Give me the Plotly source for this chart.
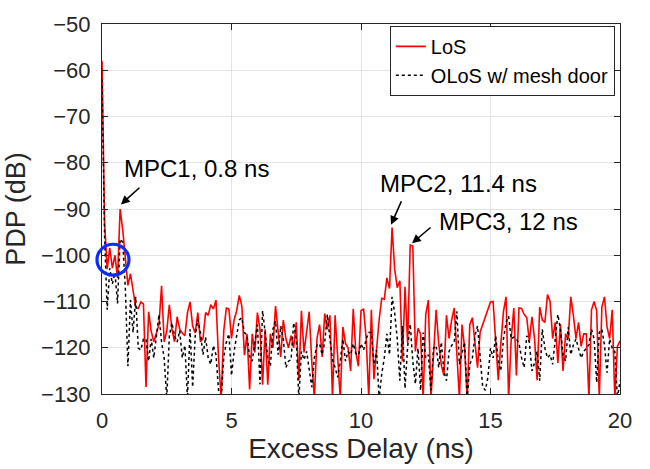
import numpy as np
import plotly.graph_objects as go

# Excess delay grid (ns), 0.1 ns spacing, 0..20 ns
delay_ns = np.round(np.arange(0, 201) * 0.1, 1)

# LoS PDP (dB)
los_db = [
    # 0.0 - 5.0
    -58, -93, -103, -98.4, -102.8, -100, -104.9, -90, -94.5, -100.7,
    -106.5, -104, -108.2, -111.2, -111.5, -110.1, -110.5, -128.5, -112.2, -116.4,
    -118.7, -117, -115, -106.6, -118.7, -116.4, -110.7, -116, -118.7, -113.3,
    -116, -116.8, -117.4, -112.4, -110.1, -115.3, -116.8, -112.4, -118.7, -118,
    -112.4, -113, -110.7, -111.6, -109.7, -122.2, -131, -116.4, -111.4, -111.6,
    -118,
    # 5.1 - 9.9
    -114, -112, -108.7, -111, -121.6, -117, -129, -117, -121,
    -112.4, -116, -128, -116, -128, -117, -120, -111, -116, -122,
    -114, -118, -120, -117.4, -120, -114.5, -127, -112, -121, -117,
    -112.2, -123, -131, -118, -115, -122, -112.6, -116, -113, -131,
    -113, -122, -131, -115.5, -119, -120, -125, -111.6, -121, -124,
    # 10.0 - 15.0
    -112, -111.6, -118, -131, -111.8, -126.8, -120, -114, -109.3, -109.5,
    -104.9, -107.2, -94, -103, -107, -105.5, -122.9, -106.8, -119, -97.8,
    -98, -120.8, -115.8, -117, -131, -112.8, -109.7, -131, -121.6, -111.8,
    -119, -123.7, -126, -113, -118, -114, -111.4, -121, -131, -115,
    -120, -131, -115, -113.5, -119, -124.3, -116.6, -115, -113.5, -112,
    -110.1,
    # 15.1 - 20.0
    -110, -118, -127, -119, -112.2, -109, -131, -118, -111.4,
    -126, -111.4, -111.5, -112.8, -113.5, -118.7, -113.3, -118, -127, -111.2,
    -114, -114.5, -108.5, -110, -118, -114.5, -123.3, -114.9, -125, -117,
    -118, -109, -113, -118, -114.5, -119.7, -117, -117, -131, -111.8,
    -110, -112, -131, -111.2, -109, -115.5, -118, -111.8, -131, -119.7,
    -118.5,
]

# OLoS w/ mesh door PDP (dB)
olos_db = [
    # 0.0 - 4.9
    -62, -95.8, -111.8, -102.8, -106.2, -103.8, -110.4, -96.5, -97.2, -107,
    -124, -109.7, -116.7, -109, -120.1, -120.5, -118.1, -118.1, -122.9, -118.1,
    -122.2, -116.7, -112.8, -118.8, -122.2, -131, -117.4, -114.6, -117.4, -118.8,
    -116.3, -122.2, -119.5, -131, -116, -128.5, -117.4, -113.9, -116.7, -121.5,
    -117.7, -122.2, -123.6, -119.5, -121.5, -129.2, -131, -122.2, -118.8, -117,
    # 5.0 - 10.0
    -126, -120.8, -117.4, -114, -113.5, -116.7, -117.4, -121.9, -122.9, -119.1,
    -115, -127.9, -112, -116.7, -122.2, -124, -116, -114.2, -121.5, -115.3,
    -118.1, -124.3, -122.9, -122.6, -114.6, -118.1, -131, -120.8, -122.6, -120.8,
    -125, -128.5, -122.2, -119.4, -119.1, -121.5, -118.8, -112.8, -118.1, -122.6,
    -124.3, -126.4, -122.9, -118.1, -122.9, -120.8, -121.5, -119.1, -121.2, -121.6,
    -119.1,
    # 10.1 - 15.0
    -120.5, -118.1, -116.7, -116.7, -123.6, -120.5, -131, -125.7, -122.2,
    -117, -121.5, -109, -112.5, -118.1, -127.1, -115.3, -128.8, -119.8, -114.9,
    -122.9, -127.8, -120.1, -129.2, -116.7, -122.2, -121.5, -129.2, -120.1, -119.5,
    -124.3, -118.8, -125, -127.1, -120.8, -119.5, -118.8, -112.1, -123.6, -120.8,
    -118.8, -131, -123.6, -122.2, -117.4, -115.3, -122.2, -128.5, -129.2, -126.4,
    -120.1,
    # 15.1 - 20.0
    -122.2, -117.4, -122.9, -125, -118.1, -114.6, -113.2, -118.1, -117.7,
    -118.1, -119.1, -122.2, -124.3, -117.4, -118.8, -125, -123.3, -120.8, -127.1,
    -116, -120.1, -122.2, -121.5, -123.6, -117.4, -112.8, -116, -121.5, -122.9,
    -115.6, -121.5, -119.4, -118.1, -120.1, -122.2, -120.8, -120.1, -119.4, -116,
    -118.1, -127.5, -116.7, -116, -119.4, -125.4, -118.1, -120.1, -120.8, -131,
    -127.1,
]

series_names = ["LoS", "OLoS w/ mesh door"]

# annotations: label, text-left x, text y, arrow-head x/y, tail offset (px)
mpc_labels = ["MPC1, 0.8 ns", "MPC2, 11.4 ns", "MPC3, 12 ns"]
mpc_text_x = [0.78, 10.66, 12.93]
mpc_text_y = [-81.3, -84.4, -92.6]
mpc_head_x = [0.73, 11.16, 11.97]
mpc_head_y = [-89.0, -93.4, -97.4]
mpc_tail_dx = [20, 11, 20]
mpc_tail_dy = [-18, -25, -17]

x_ticks = [0, 5, 10, 15, 20]
y_ticks = [-50, -60, -70, -80, -90, -100, -110, -120, -130]

FONT = "Liberation Sans, Arial, Helvetica, sans-serif"
AX = "#262626"

fig = go.Figure()
fig.add_trace(go.Scatter(x=delay_ns, y=los_db, mode="lines", name=series_names[0],
                         line=dict(color="#ff0000", width=1.6)))
fig.add_trace(go.Scatter(x=delay_ns, y=olos_db, mode="lines", name=series_names[1],
                         line=dict(color="#000000", width=1.5, dash="dot")))

for i, lab in enumerate(mpc_labels):
    fig.add_annotation(x=mpc_text_x[i], y=mpc_text_y[i], text=lab, showarrow=False,
                       xanchor="left", yanchor="middle",
                       font=dict(family=FONT, size=24, color="#000000"))
    fig.add_annotation(x=mpc_head_x[i], y=mpc_head_y[i], text="", showarrow=True,
                       ax=mpc_tail_dx[i], ay=mpc_tail_dy[i], axref="pixel", ayref="pixel",
                       arrowhead=2, arrowsize=1.1, arrowwidth=1.6, arrowcolor="#000000",
                       standoff=0, startstandoff=0)

# blue circle highlighting the early region
fig.add_shape(type="circle", xref="paper", yref="paper",
              x0=-0.0097, x1=0.0521, y0=0.3211, y1=0.4047,
              line=dict(color="#0a2cff", width=3.2))

axis_common = dict(
    showline=True, linecolor=AX, linewidth=1, mirror="ticks",
    ticks="inside", ticklen=6, tickcolor=AX, tickwidth=1,
    showgrid=True, gridcolor="#e3e3e3", gridwidth=1, zeroline=False,
    tickfont=dict(family=FONT, size=22, color=AX),
)

fig.update_xaxes(range=[0, 20], tickvals=x_ticks, ticklabelstandoff=7,
                 title=dict(text="Excess Delay (ns)", font=dict(family=FONT, size=28, color=AX), standoff=4),
                 **axis_common)
fig.update_yaxes(range=[-130, -50], tickvals=y_ticks, ticklabelstandoff=6,
                 title=dict(text="PDP (dB)", font=dict(family=FONT, size=27, color=AX), standoff=7),
                 **axis_common)

fig.update_layout(
    width=650, height=469,
    margin=dict(l=102, r=30, t=14, b=72),
    paper_bgcolor="white", plot_bgcolor="white",
    showlegend=True,
    legend=dict(x=0.99, y=0.995, xanchor="right", yanchor="top",
                bgcolor="white", bordercolor=AX, borderwidth=1,
                font=dict(family=FONT, size=20, color="#000000"),
                itemwidth=30, tracegroupgap=0),
)

fig.write_html("out.html")
